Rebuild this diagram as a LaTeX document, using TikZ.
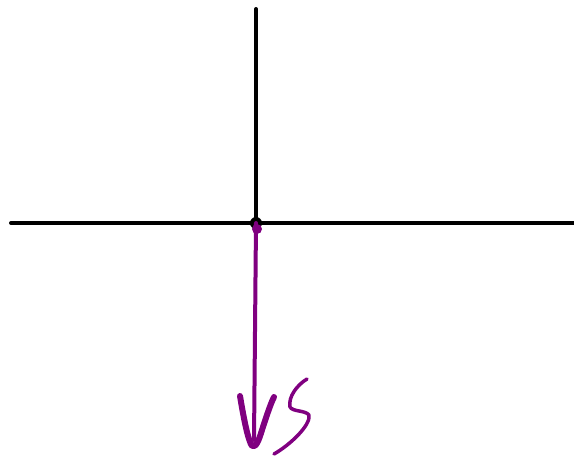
\documentclass[tikz,border=0pt]{standalone}
\definecolor{penpurple}{RGB}{128,0,128}
\tikzset{
  axisline/.style={line width=4pt, black, line cap=round},
  penline/.style={line width=4pt, penpurple, line cap=round, line join=round},
  penthick/.style={line width=6pt, penpurple, line cap=round, line join=round},
  penthin/.style={line width=3.5pt, penpurple, line cap=round, line join=round},
}
\begin{document}
\begin{tikzpicture}[x=1pt,y=-1pt]
\useasboundingbox (0,0) rectangle (574,456);
\coordinate (O) at (256,223);
\coordinate (top) at (256,9);
\coordinate (left) at (11,223);
\coordinate (right) at (574,223);
\coordinate (tip) at (254,440);
\draw[axisline] (left) -- (right);
\draw[axisline] (O) -- (top);
\fill[black] (O) circle (6pt);
\draw[penline] (O) -- (tip);
\fill[penpurple] (257,229) circle (5pt);
% hand-drawn arrow head
\draw[penthick] (240,396) .. controls (244,420) and (248,440) .. (252,446)
  .. controls (256,448) and (259,440) .. (262,430)
  .. controls (266,418) and (270,405) .. (274,397);
% S
\draw[penthin] (307,379) .. controls (297,385) and (288,397) .. (290,407)
  .. controls (293,412) and (305,410) .. (309,415)
  .. controls (311,425) and (290,445) .. (274,454);
\end{tikzpicture}
\end{document}
